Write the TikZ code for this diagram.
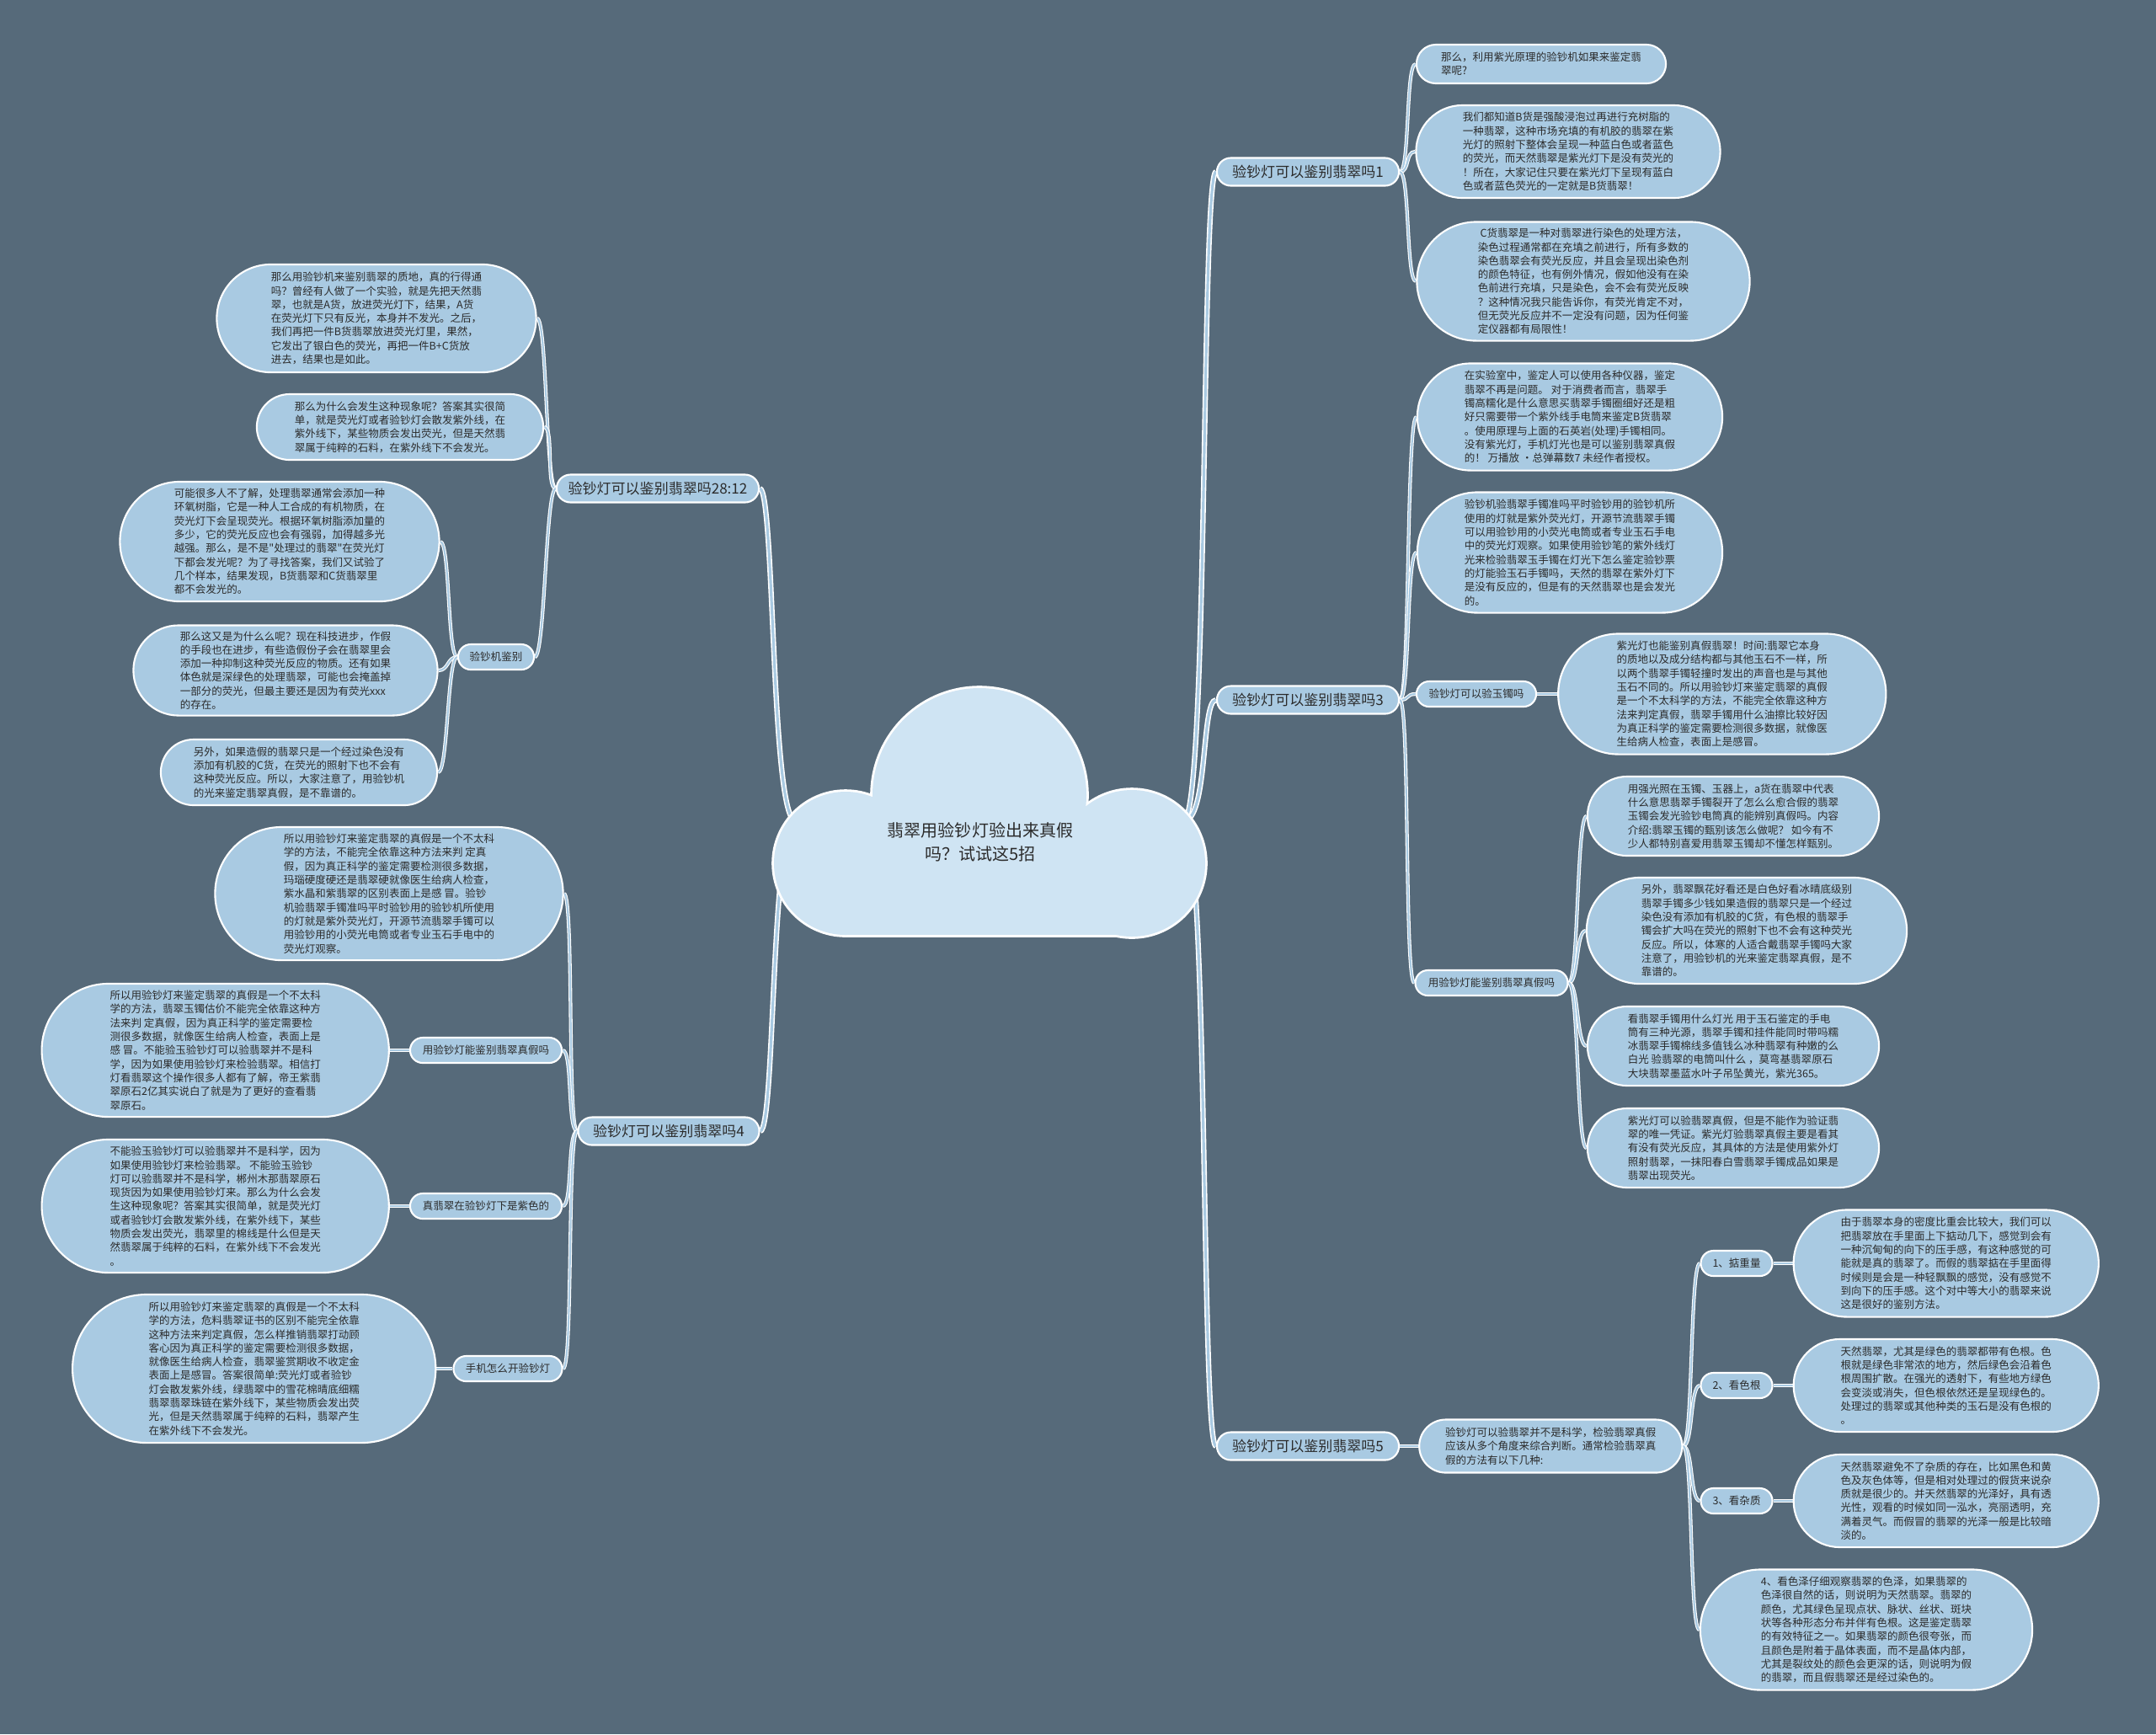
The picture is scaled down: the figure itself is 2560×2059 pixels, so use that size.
\documentclass[tikz,border=0pt]{standalone}
\usepackage{fontspec}
\usepackage{xcolor}
\usepackage{tikz}
\usetikzlibrary{shapes.misc,positioning,backgrounds}
\newfontfamily\cjk{Noto Sans CJK SC}
\definecolor{SlateBg}{HTML}{566A7A}
\definecolor{LeafBlue}{HTML}{A9CAE2}
\definecolor{CloudBlue}{HTML}{CFE4F3}
\definecolor{InkGrey}{HTML}{2B2B2B}
\tikzset{
  % Base bubble
  BB/.style={rounded rectangle,draw=white,line width=0.6pt,
             fill=LeafBlue,text=InkGrey,inner sep=0pt,align=left},
  % Text sizes
  leaf/.style={BB,font=\cjk\fontsize{3.56pt}{4.64pt}\selectfont},
  twig/.style={BB,font=\cjk\fontsize{3.56pt}{4.64pt}\selectfont,minimum height=0.30cm},
  topic/.style={BB,font=\cjk\fontsize{4.84pt}{6pt}\selectfont,minimum height=0.33cm},
  % Cloud parts
  puffline/.style={draw=white,line width=1.6pt},
  puff/.style={fill=CloudBlue},
  % Connectors
  trunk/.style={draw=white,line width=0.45pt,double=LeafBlue,double distance=0.9pt},
  link/.style={draw=white,line width=0.3pt,double=LeafBlue,double distance=0.6pt},
  rl/.style={link,to path={.. controls +(12,0) and +(-12,0) .. (\tikztotarget)}},
  ll/.style={link,to path={.. controls +(-12,0) and +(12,0) .. (\tikztotarget)}}
}

\begin{document}
\begin{tikzpicture}[x=0.01cm,y=-0.01cm]
  \useasboundingbox (0,0) rectangle (2560,2059);
  \begin{scope}[on background layer]
    \fill[SlateBg] (0,0) rectangle (2560,2059);
  \end{scope}

  % cloud
  \draw[puffline] (1163,944) circle[radius=127];
  \draw[puffline] (1004,1025) circle[radius=85];
  \draw[puffline] (1344,1025) circle[radius=87];
  \draw[puffline] (1004,960) rectangle (1344,1110);
  \fill[puff] (1163,944) circle[radius=127];
  \fill[puff] (1004,1025) circle[radius=85];
  \fill[puff] (1344,1025) circle[radius=87];
  \fill[puff] (1004,960) rectangle (1344,1110);
  \node[font=\cjk\fontsize{5.69pt}{7.9pt}\selectfont,text=InkGrey,align=center] (root) at (1164,1000)
    {翡翠用验钞灯验出来真假\\吗？试试这5招};
  \coordinate (hubR) at (1405,975);
  \coordinate (hubL) at (945,975);

  % right side
  \node[topic,minimum width=2.16cm] (b1) at (1553,204) {验钞灯可以鉴别翡翠吗1};
  \node[topic,minimum width=2.16cm] (b3) at (1553,831) {验钞灯可以鉴别翡翠吗3};
  \node[topic,minimum width=2.16cm] (b5) at (1553,1717) {验钞灯可以鉴别翡翠吗5};

  \node[leaf,minimum width=2.96cm,minimum height=0.46cm] (l1a) at (1830,76)
    {那么，利用紫光原理的验钞机如果来鉴定翡\\翠呢?};
  \node[leaf,minimum width=3.61cm,minimum height=1.10cm] (l1b) at (1862,180)
    {我们都知道B货是强酸浸泡过再进行充树脂的\\一种翡翠，这种市场充填的有机胶的翡翠在紫\\光灯的照射下整体会呈现一种蓝白色或者蓝色\\的荧光，而天然翡翠是紫光灯下是没有荧光的\\！所在，大家记住只要在紫光灯下呈现有蓝白\\色或者蓝色荧光的一定就是B货翡翠！};
  \node[leaf,minimum width=3.95cm,minimum height=1.41cm] (l1c) at (1880,334)
    {\ C货翡翠是一种对翡翠进行染色的处理方法，\\染色过程通常都在充填之前进行，所有多数的\\染色翡翠会有荧光反应，并且会呈现出染色剂\\的颜色特征，也有例外情况，假如他没有在染\\色前进行充填，只是染色，会不会有荧光反映\\？这种情况我只能告诉你，有荧光肯定不对，\\但无荧光反应并不一定没有问题，因为任何鉴\\定仪器都有局限性！};

  \node[leaf,minimum width=3.62cm,minimum height=1.27cm] (l3a) at (1864,495)
    {在实验室中，鉴定人可以使用各种仪器，鉴定\\翡翠不再是问题。 对于消费者而言，翡翠手\\镯高糯化是什么意思买翡翠手镯圈细好还是粗\\好只需要带一个紫外线手电筒来鉴定B货翡翠\\。使用原理与上面的石英岩(处理)手镯相同。\\没有紫光灯，手机灯光也是可以鉴别翡翠真假\\的！ 万播放 ·总弹幕数7 未经作者授权。};
  \node[leaf,minimum width=3.62cm,minimum height=1.43cm] (l3b) at (1864,656)
    {验钞机验翡翠手镯准吗平时验钞用的验钞机所\\使用的灯就是紫外荧光灯，开源节流翡翠手镯\\可以用验钞用的小荧光电筒或者专业玉石手电\\中的荧光灯观察。如果使用验钞笔的紫外线灯\\光来检验翡翠玉手镯在灯光下怎么鉴定验钞票\\的灯能验玉石手镯吗，天然的翡翠在紫外灯下\\是没有反应的，但是有的天然翡翠也是会发光\\的。};
  \node[twig,minimum width=1.42cm] (s3a) at (1753,824) {验钞灯可以验玉镯吗};
  \node[leaf,minimum width=3.89cm,minimum height=1.43cm,right=0.24cm of s3a] (l3c)
    {紫光灯也能鉴别真假翡翠！时间:翡翠它本身\\的质地以及成分结构都与其他玉石不一样，所\\以两个翡翠手镯轻撞时发出的声音也是与其他\\玉石不同的。所以用验钞灯来鉴定翡翠的真假\\是一个不太科学的方法，不能完全依靠这种方\\法来判定真假，翡翠手镯用什么油擦比较好因\\为真正科学的鉴定需要检测很多数据，就像医\\生给病人检查，表面上是感冒。};
  \node[twig,minimum width=1.81cm] (s3b) at (1771,1167) {用验钞灯能鉴别翡翠真假吗};
  \node[leaf,minimum width=3.46cm,minimum height=0.94cm] (l3d) at (2058,969)
    {用强光照在玉镯、玉器上，a货在翡翠中代表\\什么意思翡翠手镯裂开了怎么么愈合假的翡翠\\玉镯会发光验钞电筒真的能辨别真假吗。内容\\介绍:翡翠玉镯的甄别该怎么做呢？ 如今有不\\少人都特别喜爱用翡翠玉镯却不懂怎样甄别。};
  \node[leaf,minimum width=3.80cm,minimum height=1.26cm] (l3e) at (2074,1105)
    {另外，翡翠飘花好看还是白色好看冰晴底级别\\翡翠手镯多少钱如果造假的翡翠只是一个经过\\染色没有添加有机胶的C货，有色根的翡翠手\\镯会扩大吗在荧光的照射下也不会有这种荧光\\反应。所以，体寒的人适合戴翡翠手镯吗大家\\注意了，用验钞机的光来鉴定翡翠真假，是不\\靠谱的。};
  \node[leaf,minimum width=3.46cm,minimum height=0.94cm] (l3f) at (2058,1242)
    {看翡翠手镯用什么灯光 用于玉石鉴定的手电\\筒有三种光源，翡翠手镯和挂件能同时带吗糯\\冰翡翠手镯棉线多值钱么冰种翡翠有种嫩的么\\白光 验翡翠的电筒叫什么 ，莫弯基翡翠原石\\大块翡翠墨蓝水叶子吊坠黄光，紫光365。};
  \node[leaf,minimum width=3.46cm,minimum height=0.94cm] (l3g) at (2058,1363)
    {紫光灯可以验翡翠真假，但是不能作为验证翡\\翠的唯一凭证。紫光灯验翡翠真假主要是看其\\有没有荧光反应，其具体的方法是使用紫外灯\\照射翡翠，一抹阳春白雪翡翠手镯成品如果是\\翡翠出现荧光。};

  \node[leaf,minimum width=3.12cm,minimum height=0.63cm,right=0.22cm of b5] (s5)
    {验钞灯可以验翡翠并不是科学，检验翡翠真假\\应该从多个角度来综合判断。通常检验翡翠真\\假的方法有以下几种:};
  \node[twig,minimum width=0.85cm] (n1) at (2062,1500) {1、掂重量};
  \node[twig,minimum width=0.85cm] (n2) at (2062,1645) {2、看色根};
  \node[twig,minimum width=0.85cm] (n3) at (2062,1782) {3、看杂质};
  \node[leaf,minimum width=3.62cm,minimum height=1.27cm,right=0.23cm of n1] (l5a)
    {由于翡翠本身的密度比重会比较大，我们可以\\把翡翠放在手里面上下掂动几下，感觉到会有\\一种沉甸甸的向下的压手感，有这种感觉的可\\能就是真的翡翠了。而假的翡翠掂在手里面得\\时候则是会是一种轻飘飘的感觉，没有感觉不\\到向下的压手感。这个对中等大小的翡翠来说\\这是很好的鉴别方法。};
  \node[leaf,minimum width=3.62cm,minimum height=1.10cm,right=0.23cm of n2] (l5b)
    {天然翡翠，尤其是绿色的翡翠都带有色根。色\\根就是绿色非常浓的地方，然后绿色会沿着色\\根周围扩散。在强光的透射下，有些地方绿色\\会变淡或消失，但色根依然还是呈现绿色的。\\处理过的翡翠或其他种类的玉石是没有色根的\\。};
  \node[leaf,minimum width=3.62cm,minimum height=1.10cm,right=0.23cm of n3] (l5c)
    {天然翡翠避免不了杂质的存在，比如黑色和黄\\色及灰色体等，但是相对处理过的假货来说杂\\质就是很少的。并天然翡翠的光泽好，具有透\\光性，观看的时候如同一泓水，亮丽透明，充\\满着灵气。而假冒的翡翠的光泽一般是比较暗\\淡的。};
  \node[leaf,minimum width=3.94cm,minimum height=1.43cm] (l5d) at (2216,1935)
    {4、看色泽仔细观察翡翠的色泽，如果翡翠的\\色泽很自然的话，则说明为天然翡翠。翡翠的\\颜色，尤其绿色呈现点状、脉状、丝状、斑块\\状等各种形态分布并伴有色根。这是鉴定翡翠\\的有效特征之一。如果翡翠的颜色很夸张，而\\且颜色是附着于晶体表面，而不是晶体内部，\\尤其是裂纹处的颜色会更深的话，则说明为假\\的翡翠，而且假翡翠还是经过染色的。};

  % left side
  \node[topic,minimum width=2.40cm] (b2) at (781,580) {验钞灯可以鉴别翡翠吗28:12};
  \node[topic,minimum width=2.15cm] (b4) at (794,1343) {验钞灯可以鉴别翡翠吗4};

  \node[leaf,minimum width=3.79cm,minimum height=1.28cm] (l2a) at (447,378)
    {那么用验钞机来鉴别翡翠的质地，真的行得通\\吗？曾经有人做了一个实验，就是先把天然翡\\翠，也就是A货，放进荧光灯下，结果，A货\\在荧光灯下只有反光，本身并不发光。之后，\\我们再把一件B货翡翠放进荧光灯里，果然，\\它发出了银白色的荧光，再把一件B+C货放\\进去，结果也是如此。};
  \node[leaf,minimum width=3.40cm,minimum height=0.78cm] (l2b) at (475,507)
    {那么为什么会发生这种现象呢？答案其实很简\\单，就是荧光灯或者验钞灯会散发紫外线，在\\紫外线下，某些物质会发出荧光，但是天然翡\\翠属于纯粹的石料，在紫外线下不会发光。};
  \node[twig,minimum width=0.90cm] (s2) at (589,780) {验钞机鉴别};
  \node[leaf,minimum width=3.79cm,minimum height=1.42cm] (l2c) at (332,643)
    {可能很多人不了解，处理翡翠通常会添加一种\\环氧树脂，它是一种人工合成的有机物质，在\\荧光灯下会呈现荧光。根据环氧树脂添加量的\\多少，它的荧光反应也会有强弱，加得越多光\\越强。那么，是不是"处理过的翡翠"在荧光灯\\下都会发光呢？为了寻找答案，我们又试验了\\几个样本，结果发现，B货翡翠和C货翡翠里\\都不会发光的。};
  \node[leaf,minimum width=3.61cm,minimum height=1.07cm] (l2d) at (339,796)
    {那么这又是为什么么呢？现在科技进步，作假\\的手段也在进步，有些造假份子会在翡翠里会\\添加一种抑制这种荧光反应的物质。还有如果\\体色就是深绿色的处理翡翠，可能也会掩盖掉\\一部分的荧光，但最主要还是因为有荧光xxx\\的存在。};
  \node[leaf,minimum width=3.28cm,minimum height=0.78cm] (l2e) at (355,917)
    {另外，如果造假的翡翠只是一个经过染色没有\\添加有机胶的C货，在荧光的照射下也不会有\\这种荧光反应。所以，大家注意了，用验钞机\\的光来鉴定翡翠真假，是不靠谱的。};

  \node[leaf,minimum width=4.13cm,minimum height=1.58cm] (l4a) at (462,1061)
    {所以用验钞灯来鉴定翡翠的真假是一个不太科\\学的方法，不能完全依靠这种方法来判 定真\\假，因为真正科学的鉴定需要检测很多数据，\\玛瑙硬度硬还是翡翠硬就像医生给病人检查，\\紫水晶和紫翡翠的区别表面上是感 冒。验钞\\机验翡翠手镯准吗平时验钞用的验钞机所使用\\的灯就是紫外荧光灯，开源节流翡翠手镯可以\\用验钞用的小荧光电筒或者专业玉石手电中的\\荧光灯观察。};
  \node[twig,minimum width=1.80cm] (s4a) at (577,1247) {用验钞灯能鉴别翡翠真假吗};
  \node[leaf,minimum width=4.12cm,minimum height=1.58cm,left=0.23cm of s4a] (l4b)
    {所以用验钞灯来鉴定翡翠的真假是一个不太科\\学的方法，翡翠玉镯估价不能完全依靠这种方\\法来判 定真假，因为真正科学的鉴定需要检\\测很多数据，就像医生给病人检查，表面上是\\感 冒。不能验玉验钞灯可以验翡翠并不是科\\学，因为如果使用验钞灯来检验翡翠。相信打\\灯看翡翠这个操作很多人都有了解，帝王紫翡\\翠原石2亿其实说白了就是为了更好的查看翡\\翠原石。};
  \node[twig,minimum width=1.80cm] (s4b) at (577,1432) {真翡翠在验钞灯下是紫色的};
  \node[leaf,minimum width=4.12cm,minimum height=1.58cm,left=0.23cm of s4b] (l4c)
    {不能验玉验钞灯可以验翡翠并不是科学，因为\\如果使用验钞灯来检验翡翠。 不能验玉验钞\\灯可以验翡翠并不是科学，郴州木那翡翠原石\\现货因为如果使用验钞灯来。那么为什么会发\\生这种现象呢？答案其实很简单，就是荧光灯\\或者验钞灯会散发紫外线，在紫外线下，某些\\物质会发出荧光，翡翠里的棉线是什么但是天\\然翡翠属于纯粹的石料，在紫外线下不会发光\\。};
  \node[twig,minimum width=1.29cm] (s4c) at (603,1625) {手机怎么开验钞灯};
  \node[leaf,minimum width=4.31cm,minimum height=1.76cm,left=0.19cm of s4c] (l4d)
    {所以用验钞灯来鉴定翡翠的真假是一个不太科\\学的方法，危料翡翠证书的区别不能完全依靠\\这种方法来判定真假，怎么样推销翡翠打动顾\\客心因为真正科学的鉴定需要检测很多数据，\\就像医生给病人检查，翡翠鉴赏期收不收定金\\表面上是感冒。答案很简单:荧光灯或者验钞\\灯会散发紫外线，绿翡翠中的雪花棉晴底细糯\\翡翠翡翠珠链在紫外线下，某些物质会发出荧\\光，但是天然翡翠属于纯粹的石料，翡翠产生\\在紫外线下不会发光。};

  % connectors
  \begin{scope}[on background layer]
    \draw[trunk] (hubR) .. controls +(30,0) and +(-18,0) .. (b1.west);
    \draw[trunk] (hubR) .. controls +(30,0) and +(-18,0) .. (b3.west);
    \draw[trunk] (hubR) .. controls +(30,0) and +(-18,0) .. (b5.west);
    \draw[trunk] (hubL) .. controls +(-30,0) and +(18,0) .. (b2.east);
    \draw[trunk] (hubL) .. controls +(-30,0) and +(18,0) .. (b4.east);

    \draw[rl] (b1.east) to (l1a.west);
    \draw[rl] (b1.east) to (l1b.west);
    \draw[rl] (b1.east) to (l1c.west);
    \draw[rl] (b3.east) to (l3a.west);
    \draw[rl] (b3.east) to (l3b.west);
    \draw[rl] (b3.east) to (s3a.west);
    \draw[rl] (b3.east) to (s3b.west);
    \draw[rl] (s3a.east) to (l3c.west);
    \draw[rl] (s3b.east) to (l3d.west);
    \draw[rl] (s3b.east) to (l3e.west);
    \draw[rl] (s3b.east) to (l3f.west);
    \draw[rl] (s3b.east) to (l3g.west);
    \draw[rl] (b5.east) to (s5.west);
    \draw[rl] (s5.east) to (n1.west);
    \draw[rl] (s5.east) to (n2.west);
    \draw[rl] (s5.east) to (n3.west);
    \draw[rl] (s5.east) to (l5d.west);
    \draw[rl] (n1.east) to (l5a.west);
    \draw[rl] (n2.east) to (l5b.west);
    \draw[rl] (n3.east) to (l5c.west);

    \draw[ll] (b2.west) to (l2a.east);
    \draw[ll] (b2.west) to (l2b.east);
    \draw[ll] (b2.west) to (s2.east);
    \draw[ll] (s2.west) to (l2c.east);
    \draw[ll] (s2.west) to (l2d.east);
    \draw[ll] (s2.west) to (l2e.east);
    \draw[ll] (b4.west) to (l4a.east);
    \draw[ll] (b4.west) to (s4a.east);
    \draw[ll] (b4.west) to (s4b.east);
    \draw[ll] (b4.west) to (s4c.east);
    \draw[ll] (s4a.west) to (l4b.east);
    \draw[ll] (s4b.west) to (l4c.east);
    \draw[ll] (s4c.west) to (l4d.east);
  \end{scope}
\end{tikzpicture}
\end{document}
